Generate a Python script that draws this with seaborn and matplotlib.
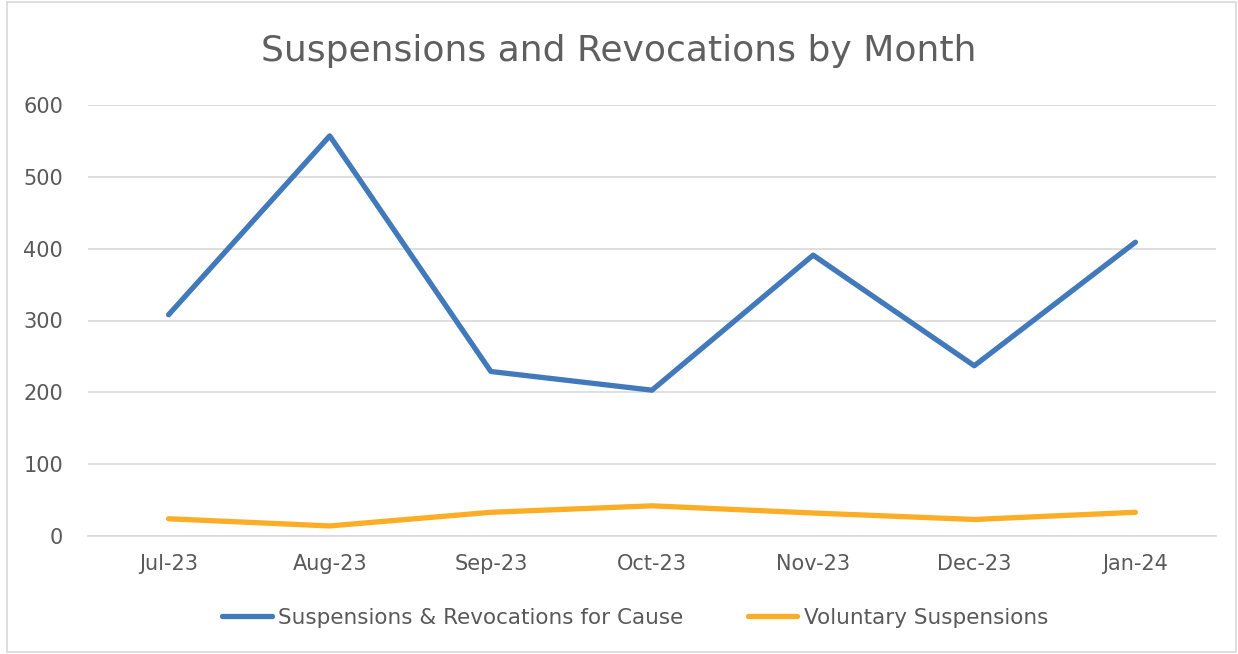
import pandas as pd
import numpy as np
import matplotlib
matplotlib.use("Agg")
import matplotlib.pyplot as plt
import seaborn as sns
from matplotlib.patches import Rectangle

months = ["Jul-23", "Aug-23", "Sep-23", "Oct-23", "Nov-23", "Dec-23", "Jan-24"]
for_cause = [308, 557, 229, 203, 391, 237, 409]
voluntary = [24, 14, 33, 42, 32, 23, 33]
series_names = ["Suspensions & Revocations for Cause", "Voluntary Suspensions"]

df = pd.DataFrame({
    "month": months * 2,
    "pos": list(range(len(months))) * 2,
    "value": for_cause + voluntary,
    "series": [series_names[0]] * len(months) + [series_names[1]] * len(months),
})

sns.set_style("white")
plt.rcParams["font.family"] = ["DejaVu Sans"]
grey = "#595959"

fig = plt.figure(figsize=(12.38, 6.54), dpi=100)
ax = fig.add_axes([88 / 1238, 1 - 536 / 654, (1216 - 88) / 1238, (536 - 105) / 654])

sns.lineplot(data=df, x="pos", y="value", hue="series",
             palette=["#4179ba", "#fbad26"], linewidth=3.8, ax=ax,
             legend=True)
for ln in ax.lines:
    ln.set_solid_capstyle("round")
    ln.set_solid_joinstyle("round")

ax.set_xlim(-0.5, len(months) - 0.5)
ax.set_ylim(0, 600)
ax.set_yticks(range(0, 601, 100))
ax.set_xticks(range(len(months)))
ax.set_xticklabels(months)
ax.set_xticks(np.arange(-0.5, len(months)), minor=True)
ax.tick_params(axis="x", which="major", length=0, pad=13, labelsize=15, colors=grey)
ax.tick_params(axis="x", which="minor", length=7, color="#d9d9d9", width=1)
ax.tick_params(axis="y", length=0, pad=18, labelsize=15, colors=grey)
ax.grid(axis="y", color="#d9d9d9", linewidth=1.2)
ax.set_axisbelow(True)
for s in ["top", "right", "left"]:
    ax.spines[s].set_visible(False)
ax.spines["bottom"].set_color("#d9d9d9")
ax.spines["bottom"].set_linewidth(1.2)
ax.set_xlabel("")
ax.set_ylabel("")

fig.text(0.5, 1 - 51 / 654, "Suspensions and Revocations by Month",
         ha="center", va="center", fontsize=26, color="#5f5f5f")

handles, labels = ax.get_legend_handles_labels()
ax.legend(handles, labels, loc="center", bbox_to_anchor=(0.485, -0.19),
          ncol=2, frameon=False, fontsize=15.5, labelcolor=grey,
          handlelength=2.3, handletextpad=0.3, columnspacing=3.0)

fig.patches.append(Rectangle((7 / 1238, 2 / 654), 1229 / 1238, 650 / 654,
                             transform=fig.transFigure, fill=False,
                             edgecolor="#d9d9d9", linewidth=1.2))

fig.savefig("out.png", dpi=100, facecolor="white")
